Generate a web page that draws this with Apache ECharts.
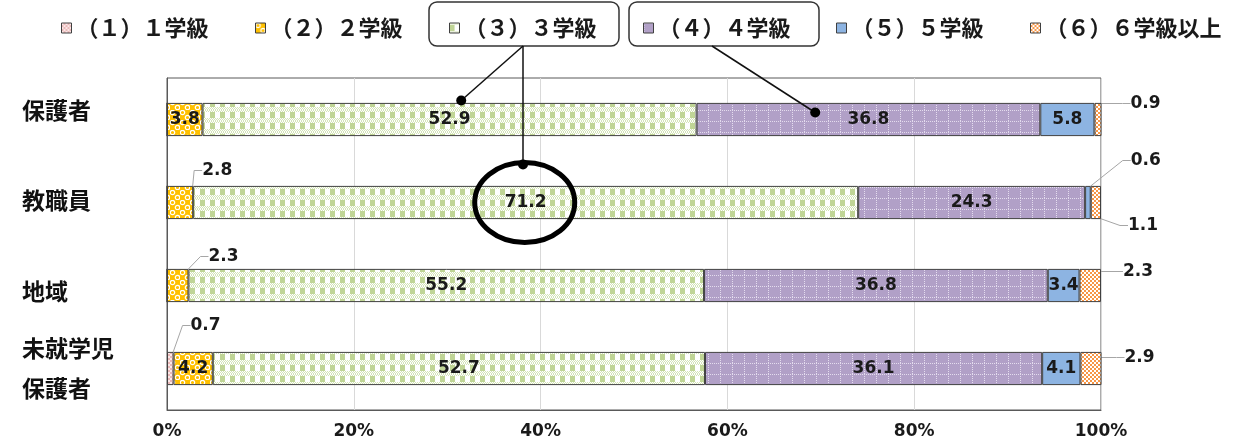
<!DOCTYPE html>
<html>
<head>
<meta charset="utf-8">
<script src="https://cdn.jsdelivr.net/npm/echarts@6/dist/echarts.min.js"></script>
<style>
    html, body { margin: 0; padding: 0; background: #fff; }
    #chart { width: 1233px; height: 448px; }
</style>
</head>
<body>
<div id="chart"></div>
<script>
    // 区分
    var categories = ['保護者', '教職員', '地域', '未就学児\n保護者'];
    var seriesNames = ['（１）１学級', '（２）２学級', '（３）３学級', '（４）４学級', '（５）５学級', '（６）６学級以上'];
    // 各学級数の割合（%）
    var grade1 = [0, 0, 0, 0.7];
    var grade2 = [3.8, 2.8, 2.3, 4.2];
    var grade3 = [52.9, 71.2, 55.2, 52.7];
    var grade4 = [36.8, 24.3, 36.8, 36.1];
    var grade5 = [5.8, 0.6, 3.4, 4.1];
    var grade6 = [0.9, 1.1, 2.3, 2.9];
    var xTicks = [0, 20, 40, 60, 80, 100];

    var FONT = '"Noto Sans CJK JP", "Noto Sans", sans-serif';
    var NUM_FONT = '"DejaVu Sans", sans-serif';

    // 外側ラベル（引き出し線あり）の位置: [系列, 行, dx, dy]
    var outsideLabels = [
        [0, 3, 17, -43],
        [1, 1, 9, -32],
        [1, 2, 20, -29],
        [4, 1, 40, -42],
        [5, 0, 29, -16],
        [5, 1, 27, 23],
        [5, 2, 22, -14],
        [5, 3, 23, -11]
    ];
    function findOutside(s, i) {
        for (var k = 0; k < outsideLabels.length; k++) {
            if (outsideLabels[k][0] === s && outsideLabels[k][1] === i) return outsideLabels[k];
        }
        return null;
    }

    // 模様
    function tile(w, h, draw) {
        var c = document.createElement('canvas');
        c.width = w; c.height = h;
        draw(c.getContext('2d'));
        return { image: c, repeat: 'repeat' };
    }
    var fills = [
        tile(4, 4, function (g) {
            g.fillStyle = '#eab8b8'; g.fillRect(0, 0, 4, 4);
            g.fillStyle = '#fbe9e9'; g.fillRect(0, 0, 2, 2); g.fillRect(2, 2, 2, 2);
        }),
        tile(10, 10, function (g) {
            g.fillStyle = '#ffc000'; g.fillRect(0, 0, 10, 10);
            g.strokeStyle = '#fff'; g.lineWidth = 1.2;
            g.beginPath(); g.arc(2.5, 2.5, 2.2, 0, Math.PI * 2); g.stroke();
            g.beginPath(); g.arc(7.5, 7.5, 2.2, 0, Math.PI * 2); g.stroke();
        }),
        tile(10, 11, function (g) {
            for (var y = 0; y < 11; y++) {
                for (var x = 0; x < 10; x++) {
                    g.fillStyle = (x + y) % 2 ? '#d5e4b8' : '#ffffff';
                    g.fillRect(x, y, 1, 1);
                }
            }
            g.fillStyle = '#c0d596'; g.fillRect(0, 2, 5, 6);
            g.fillStyle = '#ffffff'; g.fillRect(5, 2, 5, 6);
        }),
        tile(12, 11, function (g) {
            g.fillStyle = '#b1a0c7'; g.fillRect(0, 0, 12, 11);
            g.fillStyle = '#e4dcee';
            for (var x = 0; x < 12; x += 2) g.fillRect(x, 0, 1, 1);
            for (var y = 0; y < 11; y += 2) g.fillRect(0, y, 1, 1);
        }),
        '#8db4e2',
        tile(4, 4, function (g) {
            g.fillStyle = '#f79646'; g.fillRect(0, 0, 4, 4);
            g.fillStyle = '#ffffff'; g.fillRect(0, 0, 2, 2); g.fillRect(2, 2, 2, 2);
        })
    ];

    var allValues = [grade1, grade2, grade3, grade4, grade5, grade6];

    var series = allValues.map(function (vals, s) {
        return {
            name: seriesNames[s],
            type: 'bar',
            stack: 'total',
            barWidth: '40%',
            itemStyle: { color: fills[s], borderColor: '#404040', borderWidth: 1 },
            label: {
                fontFamily: NUM_FONT, fontWeight: 'bold', fontSize: 17, color: '#1a1a1a'
            },
            labelLine: { lineStyle: { color: '#a6a6a6', width: 1 }, length2: 8 },
            labelLayout: function (params) {
                var o = findOutside(params.seriesIndex, params.dataIndex);
                if (!o) return {};
                return {
                    x: params.rect.x + params.rect.width + o[2],
                    y: params.rect.y + params.rect.height / 2 + o[3],
                    align: 'left',
                    verticalAlign: 'middle'
                };
            },
            data: vals.map(function (v, i) {
                var out = findOutside(s, i);
                return {
                    value: v,
                    label: { show: v > 0, position: out ? 'right' : 'inside' },
                    labelLine: { show: !!out }
                };
            })
        };
    });

    var legendLefts = [56, 250, 444, 638, 831, 1025];
    var legends = seriesNames.map(function (n, i) {
        return {
            data: [{ name: n, icon: 'rect' }],
            left: legendLefts[i],
            top: 12,
            itemWidth: 10,
            itemHeight: 10,
            selectedMode: false,
            itemStyle: { borderColor: '#404040', borderWidth: 1 },
            textStyle: { fontFamily: FONT, fontWeight: 'bold', fontSize: 22, color: '#1a1a1a' }
        };
    });

    var option = {
        animation: false,
        backgroundColor: '#fff',
        legend: legends,
        grid: { left: 167, right: 132, top: 78, bottom: 38, show: true, borderColor: '#595959', borderWidth: 1 },
        xAxis: {
            type: 'value',
            min: xTicks[0],
            max: xTicks[xTicks.length - 1],
            interval: xTicks[1] - xTicks[0],
            axisLine: { show: true, lineStyle: { color: '#595959' } },
            axisTick: { show: false },
            splitLine: { show: true, lineStyle: { color: '#d9d9d9' } },
            axisLabel: {
                formatter: '{value}%', margin: 13,
                fontFamily: NUM_FONT, fontWeight: 'bold', fontSize: 17, color: '#1a1a1a'
            }
        },
        yAxis: {
            type: 'category',
            inverse: true,
            data: categories,
            axisLine: { show: true, lineStyle: { color: '#595959' } },
            axisTick: { show: false },
            axisLabel: {
                align: 'left', margin: 145,
                formatter: function (v, i) { return '{c' + i + '|' + v + '}'; },
                rich: {
                    c0: { fontFamily: FONT, fontWeight: 'bold', fontSize: 23, color: '#111', padding: [0, 0, 18, 0] },
                    c1: { fontFamily: FONT, fontWeight: 'bold', fontSize: 23, color: '#111', padding: [0, 0, 4, 0] },
                    c2: { fontFamily: FONT, fontWeight: 'bold', fontSize: 23, color: '#111', padding: [12, 0, 0, 0] },
                    c3: { fontFamily: FONT, fontWeight: 'bold', fontSize: 23, color: '#111', lineHeight: 40 }
                }
            }
        },
        series: series
    };

    var chart = echarts.init(document.getElementById('chart'));
    chart.setOption(option);

    // 注釈（吹き出しと丸）
    function px(x, row) { return chart.convertToPixel({ xAxisIndex: 0, yAxisIndex: 0 }, [x, row]); }
    var dotA = px(31.5, 0); dotA[1] -= 19;
    var dotC = px(69.4, 0); dotC[1] -= 7;
    var ring = px(38.3, 1);
    var dotB = [523, ring[1] - 38];

    chart.setOption({
        graphic: [
            { type: 'rect', z: 100, shape: { x: 429, y: 2, width: 190, height: 44, r: 8 }, style: { fill: 'none', stroke: '#333', lineWidth: 1.5 } },
            { type: 'rect', z: 100, shape: { x: 629, y: 2, width: 190, height: 44, r: 8 }, style: { fill: 'none', stroke: '#333', lineWidth: 1.5 } },
            { type: 'line', z: 100, shape: { x1: 523, y1: 46, x2: dotA[0], y2: dotA[1] }, style: { stroke: '#111', lineWidth: 1.5 } },
            { type: 'line', z: 100, shape: { x1: 523, y1: 46, x2: dotB[0], y2: dotB[1] }, style: { stroke: '#111', lineWidth: 1.5 } },
            { type: 'line', z: 100, shape: { x1: 712, y1: 46, x2: dotC[0], y2: dotC[1] }, style: { stroke: '#111', lineWidth: 1.5 } },
            { type: 'circle', z: 101, shape: { cx: dotA[0], cy: dotA[1], r: 5 }, style: { fill: '#000' } },
            { type: 'circle', z: 101, shape: { cx: dotB[0], cy: dotB[1], r: 5 }, style: { fill: '#000' } },
            { type: 'circle', z: 101, shape: { cx: dotC[0], cy: dotC[1], r: 5 }, style: { fill: '#000' } },
            { type: 'ellipse', z: 100, shape: { cx: ring[0], cy: ring[1], rx: 50, ry: 40 }, style: { fill: 'none', stroke: '#000', lineWidth: 5 } }
        ]
    });

    window.addEventListener('resize', function () {
        chart.resize();
    });
</script>
</body>
</html>
